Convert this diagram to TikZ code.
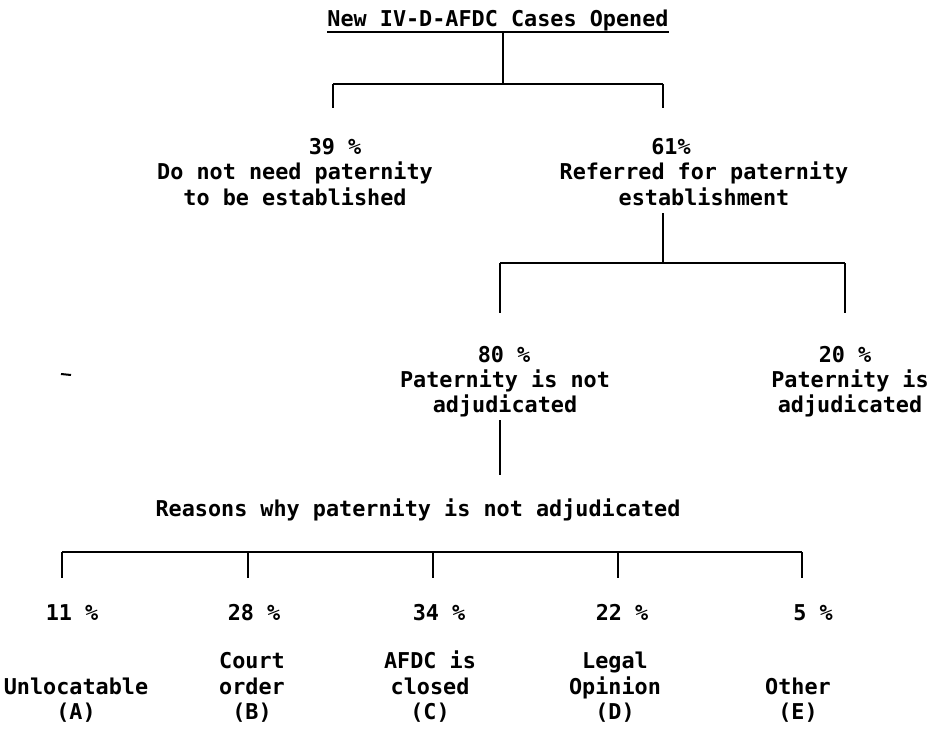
\documentclass[tikz,border=0pt]{standalone}
\usepackage{fontspec}
\newfontfamily\tw{DejaVu Sans Mono}
\newcommand\mlines[1]{\begin{tabular}[t]{@{}c@{}}#1\end{tabular}}
\begin{document}
\begin{tikzpicture}[x=1pt,y=-1pt,
  txt/.style={font={\fontsize{21.8}{25.5}\tw\bfseries}, inner sep=0pt, anchor=base},
  ln/.style={line width=2pt},
  barln/.style={line width=2.6pt}]
\useasboundingbox (0,0) rectangle (931,730);

% level 0
\node[txt] (title) at (498,27) {New IV-D-AFDC Cases Opened};
\draw[ln] ([yshift=-5pt]title.base west) -- ([yshift=-5pt]title.base east);
\coordinate (j1) at (503,84);
\coordinate (b1l) at (333,84);
\coordinate (b1r) at (663,84);
\coordinate (d39) at (333,108);
\coordinate (d61) at (663,108);
\draw[ln] ([yshift=-6pt]title.base -| j1) -- (j1);
\draw[ln] (b1l) -- (b1r);
\draw[ln] (b1l) -- (d39);
\draw[ln] (b1r) -- (d61);

% level 1
\node[txt] (p39) at (335,155) {39 \%};
\node[txt] (t39) at (295,180) {\mlines{Do not need paternity\\to be established}};
\node[txt] (p61) at (671,155) {61\%};
\node[txt] (t61) at (704,180) {\mlines{Referred for paternity\\establishment}};

\coordinate (j2) at (663,263);
\coordinate (b2l) at (500,263);
\coordinate (b2r) at (845,263);
\coordinate (d80) at (500,313);
\coordinate (d20) at (845,313);
\draw[ln] (t61.south -| j2) -- (j2);
\draw[ln] (b2l) -- (b2r);
\draw[ln] (b2l) -- (d80);
\draw[ln] (b2r) -- (d20);

% level 2
\node[txt] (p80) at (504,362) {80 \%};
\node[txt] (t80) at (505,387) {\mlines{Paternity is not\\adjudicated}};
\node[txt] (p20) at (845,362) {20 \%};
\node[txt] (t20) at (850,387) {\mlines{Paternity is\\adjudicated}};
\coordinate (e80) at (500,475);
\draw[ln] (t80.south -| e80) -- (e80);

% stray mark
\draw[line width=2pt] (61,374) -- (71,375);

% level 3
\node[txt] (reasons) at (418,516) {Reasons why paternity is not adjudicated};
\coordinate (b3l) at (62,552);
\coordinate (b3r) at (802,552);
\coordinate (dA) at (62,578);
\coordinate (dB) at (248,578);
\coordinate (dC) at (433,578);
\coordinate (dD) at (618,578);
\coordinate (dE) at (802,578);
\draw[barln] (b3l) -- (b3r);
\foreach \d in {dA,dB,dC,dD,dE} \draw[ln] (\d |- b3l) -- (\d);

\node[txt] (pA) at (72,620) {11 \%};
\node[txt] (pB) at (254,620) {28 \%};
\node[txt] (pC) at (439,620) {34 \%};
\node[txt] (pD) at (622,620) {22 \%};
\node[txt] (pE) at (813,620) {5 \%};

\node[txt] (lA) at (76,694) {\mlines{Unlocatable\\(A)}};
\node[txt] (lB) at (252,668.5) {\mlines{Court\\order\\(B)}};
\node[txt] (lC) at (430,668.5) {\mlines{AFDC is\\closed\\(C)}};
\node[txt] (lD) at (615,668.5) {\mlines{Legal\\Opinion\\(D)}};
\node[txt] (lE) at (798,694) {\mlines{Other\\(E)}};
\end{tikzpicture}
\end{document}
